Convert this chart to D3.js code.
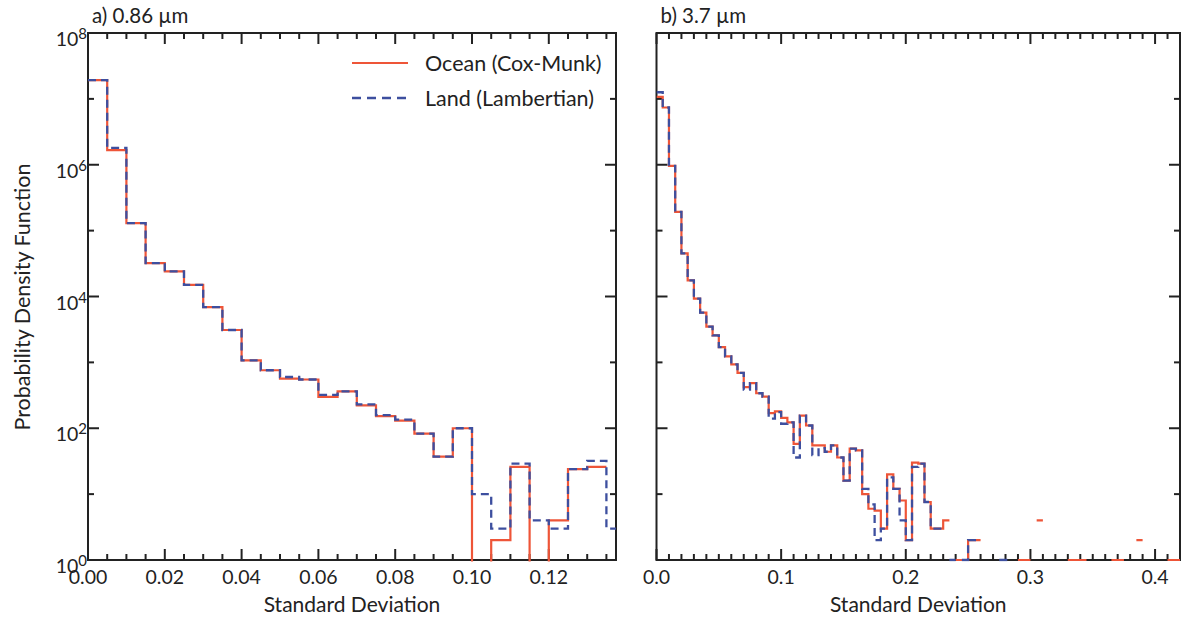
<!DOCTYPE html>
<html>
<head>
<meta charset="utf-8">
<script src="https://cdn.jsdelivr.net/npm/d3@7"></script>
<style>
  body { margin: 0; background: #fff; }
  text { font-family: Lato, "DejaVu Sans", sans-serif; fill: #222; }
</style>
</head>
<body>
<svg id="chart" width="1183" height="619"></svg>
<script>
// Histogram bin width (standard deviation units)
const binWidth = 0.005;

// Panel a) 0.86 µm — PDF per bin starting at 0, step 0.005 (0 = empty bin, null = no data)
const oceanA = [1.93e7, 1.67e6, 1.3e5, 3.2e4, 2.4e4, 1.5e4, 6.9e3, 3.1e3, 1.07e3, 760,
                565, 550, 300, 363, 222, 153, 131, 83, 37, 100,
                0, 2, 26, 0, 4, 24, 26, null];
const landA  = [1.93e7, 1.8e6, 1.3e5, 3.2e4, 2.4e4, 1.5e4, 6.9e3, 3.1e3, 1.07e3, 760,
                600, 550, 320, 363, 230, 158, 135, 83, 37, 100,
                10, 3, 29, 4, 3, 24, 32, 3];

// Panel b) 3.7 µm
const oceanB = [1.07e7, 7.4e6, 9.6e5, 1.92e5, 4.5e4, 1.76e4, 9.3e3, 5.7e3, 3.5e3, 2.57e3,
                1.7e3, 1.23e3, 930, 695, 420, 485, 340, 302, 170, 180,
                144, 123, 58, 156, 110, 55, 55, 44, 55, 36,
                16, 49, 46, 10, 6, 5.6, 3, 20, 12, 8,
                2, 30, 29, 7.6, 3, 3, 4, null, 1, 1,
                2, 2, null, null, null, null, null, null, 1, 1,
                null, 4, null, null, null, null, 1, 1, 1, null,
                null, null, null, 1, 1, null, null, 2, null, null,
                null, null, 1, 1];
const landB  = [1.26e7, 7.4e6, 9.6e5, 1.92e5, 4.5e4, 1.76e4, 9.3e3, 5.7e3, 3.5e3, 2.57e3,
                1.7e3, 1.23e3, 930, 695, 385, 485, 340, 302, 140, 176,
                117, 123, 36, 156, 110, 39, 50, 44, 55, 36,
                16, 49, 46, 12, 7, 2, 3, 18, 12, 4,
                2, 26, 29, 7.6, 3, 3, null, 1, null, 1,
                2, 2, null, null, null, 1, 1];

// Axis tick definitions
const xTicksA = [0, 0.02, 0.04, 0.06, 0.08, 0.10, 0.12];
const xTickLabelsA = ["0.00", "0.02", "0.04", "0.06", "0.08", "0.10", "0.12"];
const xTicksB = [0, 0.1, 0.2, 0.3, 0.4];
const xTickLabelsB = ["0.0", "0.1", "0.2", "0.3", "0.4"];
const yExponents = [0, 2, 4, 6, 8];

const seriesNames = ["Ocean (Cox-Munk)", "Land (Lambertian)"];
const panelTitles = ["a) 0.86 \u00b5m", "b) 3.7 \u00b5m"];

const RED = "#ee5538";
const BLUE = "#3d4f9f";
const AXIS = "#222";

const svg = d3.select("#chart");
const plotTop = 33, plotBottom = 560;

const y = d3.scaleLog().domain([1, 1e8]).range([plotBottom, plotTop]);

function stepPoints(vals) {
  const pts = [];
  vals.forEach((v, i) => {
    if (v === null || v === undefined) { pts.push(null); return; }
    pts.push([i * binWidth, v], [(i + 1) * binWidth, v]);
  });
  return pts;
}

function drawPanel(cfg, idx) {
  const x = d3.scaleLinear().domain([0, cfg.xmax]).range([cfg.left, cfg.right]);
  const g = svg.append("g");

  const clipId = "clip" + idx;
  svg.append("clipPath").attr("id", clipId)
    .append("rect")
    .attr("x", cfg.left).attr("y", plotTop - 1)
    .attr("width", cfg.right - cfg.left).attr("height", plotBottom - plotTop + 2.5);

  // frame
  g.append("rect")
    .attr("x", cfg.left).attr("y", plotTop)
    .attr("width", cfg.right - cfg.left).attr("height", plotBottom - plotTop)
    .attr("fill", "none").attr("stroke", AXIS).attr("stroke-width", 2);

  // x ticks (bottom and top, inward)
  const minor = d3.range(0, cfg.xmax + 1e-9, cfg.minorStep);
  minor.forEach(v => {
    const isMajor = Math.abs(v / cfg.majorStep - Math.round(v / cfg.majorStep)) < 1e-6;
    const len = isMajor ? 11 : 6;
    const xp = x(v);
    g.append("line").attr("x1", xp).attr("x2", xp).attr("y1", plotBottom).attr("y2", plotBottom - len)
      .attr("stroke", AXIS).attr("stroke-width", 2);
    g.append("line").attr("x1", xp).attr("x2", xp).attr("y1", plotTop).attr("y2", plotTop + len)
      .attr("stroke", AXIS).attr("stroke-width", 2);
  });

  // y ticks (left and right, inward)
  d3.range(0, 9).forEach(e => {
    const len = e % 2 === 0 ? 11 : 6;
    const yp = y(Math.pow(10, e));
    g.append("line").attr("x1", cfg.left).attr("x2", cfg.left + len).attr("y1", yp).attr("y2", yp)
      .attr("stroke", AXIS).attr("stroke-width", 2);
    g.append("line").attr("x1", cfg.right).attr("x2", cfg.right - len).attr("y1", yp).attr("y2", yp)
      .attr("stroke", AXIS).attr("stroke-width", 2);
  });

  // x tick labels
  cfg.ticks.forEach((v, i) => {
    g.append("text").attr("x", x(v)).attr("y", 584)
      .attr("text-anchor", "middle").attr("font-size", 19.5)
      .text(cfg.tickLabels[i]);
  });

  // y tick labels as powers of ten
  if (cfg.yLabels) {
    yExponents.forEach(e => {
      const t = g.append("text").attr("x", cfg.left - 1).attr("y", y(Math.pow(10, e)) + 13)
        .attr("text-anchor", "end").attr("font-size", 19.5);
      t.append("tspan").text("10");
      t.append("tspan").attr("dy", -7).attr("font-size", 15).text(String(e));
    });
  }

  // x axis title
  g.append("text").attr("x", (cfg.left + cfg.right) / 2).attr("y", 612)
    .attr("text-anchor", "middle").attr("font-size", 21).text("Standard Deviation");

  // panel title
  g.append("text").attr("x", cfg.left + 4).attr("y", 23)
    .attr("font-size", 20.5).text(cfg.title);

  const line = d3.line()
    .defined(d => d !== null)
    .x(d => x(d[0]))
    .y(d => y(Math.max(d[1], 1e-3)));

  const lines = g.append("g").attr("clip-path", `url(#${clipId})`);
  lines.append("path").attr("d", line(stepPoints(cfg.ocean)))
    .attr("fill", "none").attr("stroke", RED).attr("stroke-width", 2.2);
  lines.append("path").attr("d", line(stepPoints(cfg.land)))
    .attr("fill", "none").attr("stroke", BLUE).attr("stroke-width", 2.3)
    .attr("stroke-dasharray", "8,5");
}

drawPanel({
  left: 88, right: 616, xmax: 0.1375, minorStep: 0.005, majorStep: 0.02,
  ticks: xTicksA, tickLabels: xTickLabelsA, yLabels: true,
  title: panelTitles[0], ocean: oceanA, land: landA
}, 0);

drawPanel({
  left: 656.5, right: 1180, xmax: 0.42, minorStep: 0.01, majorStep: 0.1,
  ticks: xTicksB, tickLabels: xTickLabelsB, yLabels: false,
  title: panelTitles[1], ocean: oceanB, land: landB
}, 1);

// y axis title
svg.append("text")
  .attr("transform", "translate(30,297) rotate(-90)")
  .attr("text-anchor", "middle").attr("font-size", 21.5)
  .text("Probability Density Function");

// legend
const legend = svg.append("g");
legend.append("line").attr("x1", 352).attr("x2", 408).attr("y1", 63).attr("y2", 63)
  .attr("stroke", RED).attr("stroke-width", 2.2);
legend.append("text").attr("x", 425).attr("y", 70.5).attr("font-size", 21.5).text(seriesNames[0]);
legend.append("line").attr("x1", 352).attr("x2", 408).attr("y1", 98).attr("y2", 98)
  .attr("stroke", BLUE).attr("stroke-width", 2.3).attr("stroke-dasharray", "9,6");
legend.append("text").attr("x", 425).attr("y", 105.5).attr("font-size", 21.5).text(seriesNames[1]);
</script>
</body>
</html>
